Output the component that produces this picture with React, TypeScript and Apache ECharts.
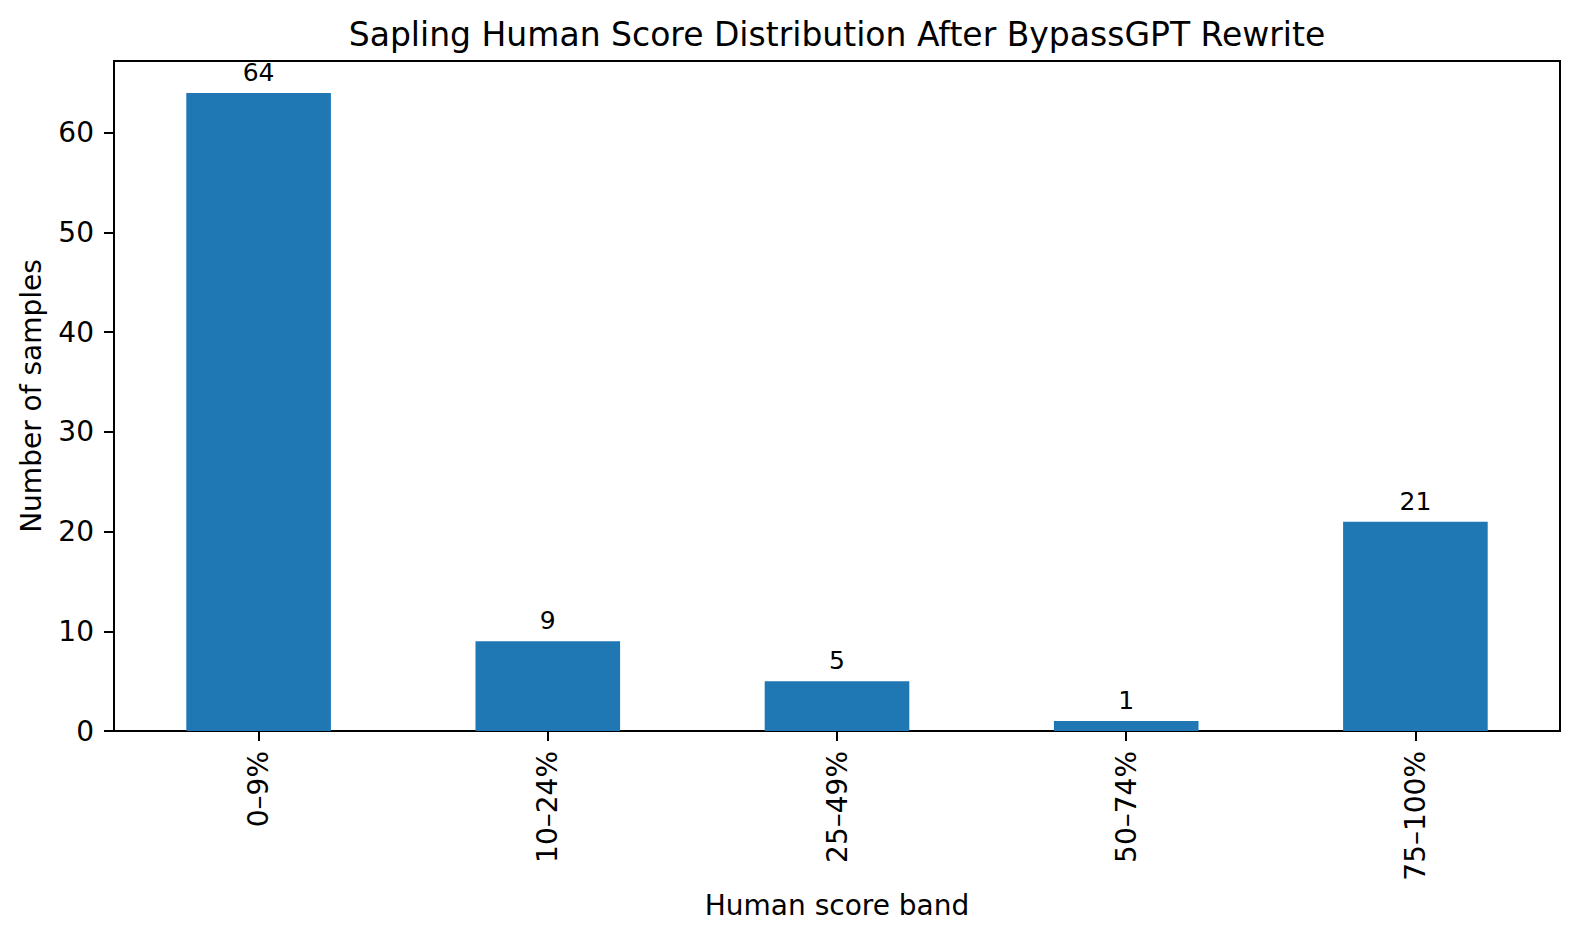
import React, { useEffect, useRef } from "react";
import * as echarts from "echarts";

const categories = ["0–9%", "10–24%", "25–49%", "50–74%", "75–100%"];
const counts = [64, 9, 5, 1, 21];
const yTicks = [0, 10, 20, 30, 40, 50, 60];

const FONT = "DejaVu Sans";

export default function App() {
  const ref = useRef<HTMLDivElement>(null);
  useEffect(() => {
    if (!ref.current) return;
    const chart = echarts.init(ref.current, null, { renderer: "svg" });
    const gridLeft = 114;
    const gridRight = 20;
    const gridTop = 61;
    const gridBottom = 207;
    const W = 1580;
    const H = 938;
    const plotCx = (gridLeft + (W - gridRight)) / 2;
    const plotCy = (gridTop + (H - gridBottom)) / 2;
    chart.setOption({
      animation: false,
      backgroundColor: "#ffffff",
      textStyle: { fontFamily: FONT },
      grid: {
        left: gridLeft,
        right: gridRight,
        top: gridTop,
        bottom: gridBottom,
        show: true,
        borderColor: "#000000",
        borderWidth: 2,
        backgroundColor: "transparent",
      },
      xAxis: {
        type: "category",
        data: categories,
        boundaryGap: true,
        axisLine: { show: true, lineStyle: { color: "#000000", width: 2 } },
        axisTick: { show: true, alignWithLabel: true, length: 10, lineStyle: { color: "#000000", width: 2 } },
        axisLabel: { rotate: 90, fontSize: 28, color: "#000000", margin: 20, fontFamily: FONT },
        splitLine: { show: false },
      },
      yAxis: {
        type: "value",
        min: 0,
        max: 67.2,
        interval: 10,
        axisLine: { show: true, lineStyle: { color: "#000000", width: 2 } },
        axisTick: { show: true, length: 10, lineStyle: { color: "#000000", width: 2 }, customValues: yTicks },
        axisLabel: { fontSize: 28, color: "#000000", margin: 20, fontFamily: FONT, customValues: yTicks },
        splitLine: { show: false },
      },
      series: [
        {
          type: "bar",
          data: counts,
          barWidth: "50%",
          itemStyle: { color: "#1f77b4" },
          label: {
            show: true,
            position: "top",
            distance: 8,
            fontSize: 25,
            color: "#000000",
            fontFamily: FONT,
          },
        },
      ],
      graphic: [
        {
          type: "text",
          x: plotCx,
          y: 34,
          style: {
            text: "Sapling Human Score Distribution After BypassGPT Rewrite",
            fontSize: 33,
            fontFamily: FONT,
            fill: "#000000",
            align: "center",
            verticalAlign: "middle",
          },
        },
        {
          type: "text",
          x: plotCx,
          y: 905,
          style: {
            text: "Human score band",
            fontSize: 28,
            fontFamily: FONT,
            fill: "#000000",
            align: "center",
            verticalAlign: "middle",
          },
        },
        {
          type: "text",
          x: 31,
          y: plotCy,
          rotation: Math.PI / 2,
          style: {
            text: "Number of samples",
            fontSize: 28,
            fontFamily: FONT,
            fill: "#000000",
            align: "center",
            verticalAlign: "middle",
          },
        },
      ],
    });
    return () => chart.dispose();
  }, []);
  return (
    <div
      ref={ref}
      style={{ position: "fixed", left: 0, top: 0, width: 1580, height: 938, background: "#ffffff" }}
    />
  );
}
